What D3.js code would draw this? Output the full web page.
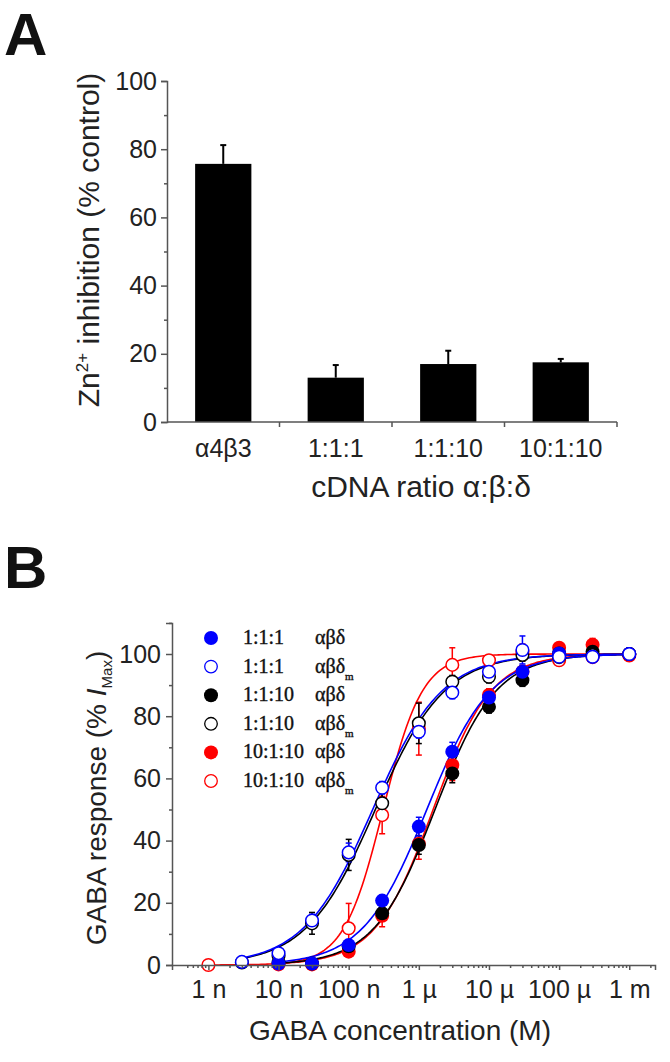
<!DOCTYPE html>
<html>
<head>
<meta charset="utf-8">
<script src="https://cdn.jsdelivr.net/npm/d3@7"></script>
<style>
  body { margin: 0; background: #fff; }
  text { font-family: "Liberation Sans", Arial, sans-serif; fill: #222; }
</style>
</head>
<body>
<script>
// ---------- data: panel A (Zn2+ inhibition) ----------
const barCategories = ["α4β3", "1:1:1", "1:1:10", "10:1:10"];
const barValues = [75.7, 13.0, 17.0, 17.5];
const barErrors = [5.5, 3.7, 3.9, 1.0];
const barTicks = [0, 20, 40, 60, 80, 100];

// ---------- data: panel B (GABA concentration-response) ----------
const gabaConc = [1e-9, 3e-9, 1e-8, 3e-8, 1e-7, 3e-7, 1e-6, 3e-6, 1e-5, 3e-5, 1e-4, 3e-4, 1e-3];
const concTicks = [1e-9, 1e-8, 1e-7, 1e-6, 1e-5, 1e-4, 1e-3];
const concTickLabels = ["1 n", "10 n", "100 n", "1 µ", "10 µ", "100 µ", "1 m"];
const responseTicks = [0, 20, 40, 60, 80, 100];

const seriesRatio = ["10:1:10", "10:1:10", "1:1:10", "1:1:10", "1:1:1", "1:1:1"];
const seriesMutant = [false, true, false, true, false, true];

const redFilled   = [null, null, 0.2, 0.2, 4.3, 15.8, 39.0, 64.3, 86.8, 94.3, 102.0, 103.0, 100];
const redOpen     = [0, null, null, null, 11.8, 48.2, 76.0, 96.5, 98.0, 100.7, 98.0, 99.0, 99.5];
const blackFilled = [null, null, 0.8, 0.5, 6.0, 16.6, 38.6, 61.6, 83.0, 91.6, 100.2, 100.7, 100];
const blackOpen   = [null, 0.8, 3.0, 13.4, 35.4, 52.0, 77.7, 91.1, 92.7, 99.7, 99.0, 99.7, 100];
const blueFilled  = [null, null, 0.5, 0.5, 6.4, 20.7, 44.5, 68.6, 86.0, 94.3, 100.2, 99.1, 100];
const blueOpen    = [null, 1.0, 3.8, 14.3, 36.2, 57.0, 75.0, 87.6, 94.3, 101.3, 99.1, 99.1, 100];

const redFilledErr   = [null, null, 0.3, 0.3, 1.0, 3.5, 5.0, 5.0, 2.0, 2.0, 1.0, 2.0, 0];
const redOpenErr     = [0, null, null, null, 8.0, 6.0, 8.5, 5.5, 1.5, 2.5, 1.0, 1.0, 0];
const blackFilledErr = [null, null, 0.5, 0.5, 1.0, 2.0, 3.0, 3.0, 2.0, 2.0, 1.0, 1.0, 0];
const blackOpenErr   = [null, 0.5, 1.0, 3.5, 5.0, 4.5, 6.5, 2.0, 2.0, 2.0, 1.0, 1.0, 0];
const blueFilledErr  = [null, null, 0.5, 0.5, 1.0, 1.5, 3.0, 3.0, 2.0, 2.0, 1.0, 1.0, 0];
const blueOpenErr    = [null, 0.5, 1.0, 2.0, 3.0, 2.0, 2.0, 2.0, 2.0, 4.5, 1.0, 1.0, 0];

// Hill fit parameters
const fitEC50 = [1.6e-6, 3.1e-7, 1.7e-6, 2.4e-7, 1.3e-6, 2.2e-7];
const fitHill = [1.05, 1.55, 1.0, 0.88, 0.95, 0.88];

const seriesValues = [redFilled, redOpen, blackFilled, blackOpen, blueFilled, blueOpen];
const seriesErrors = [redFilledErr, redOpenErr, blackFilledErr, blackOpenErr, blueFilledErr, blueOpenErr];
const seriesColors = ["#ff0000", "#ff0000", "#000000", "#000000", "#0000ff", "#0000ff"];
const seriesFilled = [true, false, true, false, true, false];

// legend shows the series top-down in this order
const legendOrder = [4, 5, 2, 3, 0, 1];

const axisColor = "#555";
const width = 670, height = 1062;

const svg = d3.select("body").append("svg")
  .attr("width", width)
  .attr("height", height);

// ===================== panel A =====================
const xA = d3.scaleBand().domain(barCategories).range([167, 617]).paddingInner(0.5).paddingOuter(0.25);
const yA = d3.scaleLinear().domain([0, 100]).range([422, 81]);

svg.append("text").attr("x", 4).attr("y", 55)
  .style("font-size", "60px").style("font-weight", "bold").style("fill", "#111").text("A");

// bars
svg.append("g").selectAll("rect")
  .data(barCategories)
  .join("rect")
  .attr("x", d => xA(d))
  .attr("width", xA.bandwidth())
  .attr("y", (d, i) => yA(barValues[i]))
  .attr("height", (d, i) => yA(0) - yA(barValues[i]))
  .attr("fill", "#000");

// error bars (upward only)
const errA = svg.append("g").attr("stroke", "#000").attr("stroke-width", 2);
barCategories.forEach((c, i) => {
  const cx = xA(c) + xA.bandwidth() / 2;
  errA.append("line").attr("x1", cx).attr("x2", cx)
    .attr("y1", yA(barValues[i])).attr("y2", yA(barValues[i] + barErrors[i]));
  errA.append("line").attr("x1", cx - 3).attr("x2", cx + 3)
    .attr("y1", yA(barValues[i] + barErrors[i])).attr("y2", yA(barValues[i] + barErrors[i]));
});

// y axis A
svg.append("g").attr("transform", "translate(167,0)")
  .call(d3.axisLeft(yA).tickValues(barTicks).tickSize(6).tickPadding(4));
svg.append("g").attr("transform", "translate(167,0)")
  .call(d3.axisLeft(yA).tickValues([10, 30, 50, 70, 90]).tickSize(3).tickFormat(""))
  .call(g => g.select(".domain").remove());

// x axis A: plain line with ticks between categories
const step = xA.step();
const xAxisA = svg.append("g");
xAxisA.append("line").attr("x1", 167).attr("x2", 617).attr("y1", yA(0)).attr("y2", yA(0));
barCategories.forEach((c, i) => {
  const bx = xA(c) + xA.bandwidth() + (step - xA.bandwidth()) / 2;
  xAxisA.append("line").attr("x1", bx).attr("x2", bx).attr("y1", yA(0)).attr("y2", yA(0) + 5);
});
xAxisA.selectAll("line").attr("stroke", axisColor).attr("stroke-width", 1.5);
svg.append("g").selectAll("text")
  .data(barCategories)
  .join("text")
  .attr("x", d => xA(d) + xA.bandwidth() / 2)
  .attr("y", 457)
  .attr("text-anchor", "middle")
  .style("font-size", "25px")
  .text(d => d);

svg.append("text").attr("x", 421).attr("y", 497).attr("text-anchor", "middle")
  .style("font-size", "30px").text("cDNA ratio α:β:δ");

const yLabA = svg.append("text")
  .attr("transform", "translate(99,240) rotate(-90)")
  .attr("text-anchor", "middle")
  .style("font-size", "30px");
yLabA.append("tspan").text("Zn");
yLabA.append("tspan").attr("dy", -11).style("font-size", "17px").text("2+");
yLabA.append("tspan").attr("dy", 11).text(" inhibition (% control)");

// ===================== panel B =====================
const xB = d3.scaleLog().domain([Math.pow(10, -9.519), Math.pow(10, -2.633)]).range([172, 655]);
const yB = d3.scaleLinear().domain([0, 110]).range([965, 622.9]);

svg.append("text").attr("x", 4).attr("y", 588)
  .style("font-size", "60px").style("font-weight", "bold").style("fill", "#111").text("B");

// fitted Hill curves
const curveG = svg.append("g").attr("fill", "none").attr("stroke-width", 1.6);
seriesValues.forEach((vals, s) => {
  const first = gabaConc[vals.findIndex(v => v !== null)];
  const xs = d3.range(0, 201).map(k => first * Math.pow(1e-3 / first, k / 200));
  const pts = xs.map(c => [c, 100 / (1 + Math.pow(fitEC50[s] / c, fitHill[s]))]);
  curveG.append("path")
    .attr("d", d3.line().x(d => xB(d[0])).y(d => yB(d[1]))(pts))
    .attr("stroke", seriesColors[s]);
});

// error bars
const errB = svg.append("g").attr("stroke-width", 1.5);
seriesValues.forEach((vals, s) => {
  vals.forEach((v, i) => {
    const e = seriesErrors[s][i];
    if (v === null || !e) return;
    const cx = xB(gabaConc[i]);
    errB.append("line").attr("x1", cx).attr("x2", cx)
      .attr("y1", yB(v - e)).attr("y2", yB(v + e)).attr("stroke", seriesColors[s]);
    [v - e, v + e].forEach(t => {
      errB.append("line").attr("x1", cx - 3).attr("x2", cx + 3)
        .attr("y1", yB(t)).attr("y2", yB(t)).attr("stroke", seriesColors[s]);
    });
  });
});

// data points
seriesValues.forEach((vals, s) => {
  const pts = gabaConc.map((c, i) => ({ c: c, v: vals[i] })).filter(d => d.v !== null);
  svg.append("g").selectAll("circle")
    .data(pts)
    .join("circle")
    .attr("cx", d => xB(d.c))
    .attr("cy", d => yB(d.v))
    .attr("r", seriesFilled[s] ? 7 : 6.3)
    .attr("fill", seriesFilled[s] ? seriesColors[s] : "#fff")
    .attr("stroke", seriesColors[s])
    .attr("stroke-width", seriesFilled[s] ? 0 : 1.5);
});

// y axis B
svg.append("g").attr("transform", "translate(172,0)")
  .call(d3.axisLeft(yB).tickValues(responseTicks).tickSize(6).tickPadding(5).tickFormat(d3.format("d")));
svg.append("g").attr("transform", "translate(172,0)")
  .call(d3.axisLeft(yB).tickValues([10, 30, 50, 70, 90, 110]).tickSize(3).tickFormat(""))
  .call(g => g.select(".domain").remove());

// x axis B
svg.append("g").attr("transform", "translate(0,965)")
  .call(d3.axisBottom(xB).tickValues(concTicks).tickSize(5).tickPadding(10)
    .tickFormat((d, i) => concTickLabels[i]));
const minorConc = [];
concTicks.forEach(t => d3.range(2, 10).forEach(m => {
  if (xB(t * m) <= 655) minorConc.push(t * m);
}));
[5e-10, 6e-10, 7e-10, 8e-10, 9e-10].forEach(t => { if (xB(t) >= 172) minorConc.push(t); });
svg.append("g").attr("transform", "translate(0,965)")
  .call(d3.axisBottom(xB).tickValues(minorConc).tickSize(3).tickFormat(""))
  .call(g => g.select(".domain").remove());

svg.append("text").attr("x", 400).attr("y", 1040).attr("text-anchor", "middle")
  .style("font-size", "28px").text("GABA concentration (M)");

const yLabB = svg.append("text")
  .attr("transform", "translate(106,798) rotate(-90)")
  .attr("text-anchor", "middle")
  .style("font-size", "28px");
yLabB.append("tspan").text("GABA response (% ");
yLabB.append("tspan").style("font-style", "italic").text("I");
yLabB.append("tspan").attr("dy", 6).style("font-size", "15px").text("Max");
yLabB.append("tspan").attr("dy", -6).text(")");

// legend
const legend = svg.append("g").attr("transform", "translate(211,638)");
legendOrder.forEach((s, row) => {
  const ly = row * 28.6;
  legend.append("circle").attr("cx", 0).attr("cy", ly)
    .attr("r", seriesFilled[s] ? 7 : 6.3)
    .attr("fill", seriesFilled[s] ? seriesColors[s] : "#fff")
    .attr("stroke", seriesColors[s])
    .attr("stroke-width", seriesFilled[s] ? 0 : 1.3);
  legend.append("text").attr("x", 32).attr("y", ly + 6)
    .style("font-family", "'Liberation Serif', 'Times New Roman', serif")
    .style("font-size", "20px").style("fill", "#111")
    .style("stroke", "#111").style("stroke-width", 0.4)
    .text(seriesRatio[s]);
  const sub = legend.append("text").attr("x", 104).attr("y", ly + 6)
    .style("font-family", "'Liberation Serif', 'Times New Roman', serif")
    .style("font-size", "20px").style("fill", "#111")
    .style("stroke", "#111").style("stroke-width", 0.4);
  sub.append("tspan").text("αβδ");
  if (seriesMutant[s]) {
    sub.append("tspan").attr("dy", 7).style("font-size", "11px").text("m");
  }
});

// axis styling
svg.selectAll(".domain, .tick line").attr("stroke", axisColor).attr("stroke-width", 1.5);
svg.selectAll(".tick text").style("font-size", "25px").style("fill", "#222")
  .style("font-family", "'Liberation Sans', Arial, sans-serif");
</script>
</body>
</html>
